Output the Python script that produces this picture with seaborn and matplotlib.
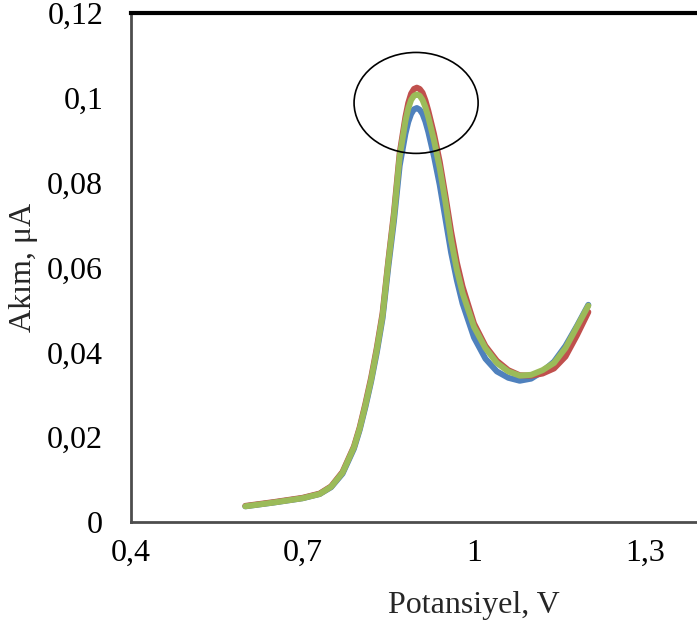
import numpy as np
import pandas as pd
import seaborn as sns
import matplotlib
matplotlib.use("Agg")
import matplotlib.pyplot as plt
from matplotlib.patches import Ellipse

# ---- data ----
potential = [0.60, 0.65, 0.70, 0.73, 0.75, 0.77, 0.79, 0.80, 0.81, 0.82, 0.83, 0.84,
             0.85, 0.86, 0.87, 0.88, 0.885, 0.89, 0.895, 0.90, 0.905, 0.91, 0.915, 0.92,
             0.93, 0.94, 0.95, 0.96, 0.97, 0.98, 1.00, 1.02, 1.04, 1.06, 1.08, 1.10,
             1.12, 1.14, 1.16, 1.18, 1.20]

current_blue = [0.0037, 0.0046, 0.0056, 0.0066, 0.0082, 0.0114, 0.0173, 0.0217, 0.0271, 0.0331,
                0.0400, 0.0480, 0.0600, 0.0710, 0.0840, 0.0915, 0.0943, 0.0962, 0.0973, 0.0976,
                0.0972, 0.0962, 0.0944, 0.0920,
                0.0862, 0.0795, 0.0715, 0.0635, 0.0570, 0.0515, 0.0435, 0.0385, 0.0355, 0.0340,
                0.0333, 0.0338, 0.0355, 0.0378, 0.0415, 0.0462, 0.0512]

current_red = [0.0038, 0.0047, 0.0057, 0.0067, 0.0084, 0.0118, 0.0178, 0.0223, 0.0279, 0.0340,
               0.0411, 0.0492, 0.0615, 0.0730, 0.0870, 0.0955, 0.0988, 0.1010, 0.1021, 0.1024,
               0.1021, 0.1012, 0.0994, 0.0970,
               0.0915, 0.0850, 0.0770, 0.0685, 0.0612, 0.0555, 0.0468, 0.0415, 0.0380, 0.0358,
               0.0346, 0.0345, 0.0350, 0.0362, 0.0390, 0.0440, 0.0495]

current_green = [0.0037, 0.0046, 0.0056, 0.0066, 0.0083, 0.0116, 0.0176, 0.0220, 0.0275, 0.0335,
                 0.0406, 0.0486, 0.0610, 0.0722, 0.0862, 0.0945, 0.0975, 0.0995, 0.1005, 0.1008,
                 0.1005, 0.0995, 0.0978, 0.0955,
                 0.0900, 0.0835, 0.0755, 0.0665, 0.0595, 0.0540, 0.0460, 0.0410, 0.0375, 0.0355,
                 0.0345, 0.0347, 0.0358, 0.0375, 0.0410, 0.0460, 0.0510]

series_names = ["Seri 1", "Seri 2", "Seri 3"]
series_colors = ["#4F81BD", "#C0504D", "#9BBB59"]

x_ticks = [0.4, 0.7, 1.0, 1.3]
x_tick_labels = ["0,4", "0,7", "1", "1,3"]
y_ticks = [0, 0.02, 0.04, 0.06, 0.08, 0.10, 0.12]
y_tick_labels = ["0", "0,02", "0,04", "0,06", "0,08", "0,1", "0,12"]

df = pd.concat([
    pd.DataFrame({"Potansiyel": potential, "Akim": vals, "Seri": name})
    for name, vals in zip(series_names, [current_blue, current_red, current_green])
], ignore_index=True)

# ---- styling ----
sns.set_theme(style="white")
plt.rcParams["font.family"] = ["Liberation Serif", "DejaVu Serif"]
FS = 23

fig = plt.figure(figsize=(6.97, 6.32), dpi=100)
ax = fig.add_axes([131 / 697, 1 - 522 / 632, (817 - 131) / 697, (522 - 13) / 632])

sns.lineplot(data=df, x="Potansiyel", y="Akim", hue="Seri", hue_order=series_names,
             palette=series_colors, linewidth=4.3, legend=False, ax=ax,
             estimator=None, sort=False)
for ln in ax.get_lines():
    ln.set_solid_capstyle("round")
    ln.set_solid_joinstyle("round")

ax.add_patch(Ellipse((0.8987, 0.0988), 0.217, 0.0238, fill=False,
                     edgecolor="black", linewidth=1.2, zorder=5))

ax.set_xlim(0.4, 1.6)
ax.set_ylim(0, 0.12)
ax.set_xticks(x_ticks)
ax.set_xticklabels(x_tick_labels)
ax.set_yticks(y_ticks)
ax.set_yticklabels(y_tick_labels)

ax.tick_params(axis="both", direction="in", length=5, width=1, color="#808080",
               labelsize=FS, labelcolor="black")
ax.tick_params(axis="x", pad=12)
ax.tick_params(axis="y", pad=20)

for side in ["left", "bottom"]:
    ax.spines[side].set_color("#4d4d4d")
    ax.spines[side].set_linewidth(2.0)
ax.spines["top"].set_color("black")
ax.spines["top"].set_linewidth(3.0)
ax.spines["right"].set_visible(False)

ax.set_xlabel("Potansiyel, V", fontsize=FS, labelpad=17)
ax.set_ylabel("Akım, μA", fontsize=FS, labelpad=7)

fig.savefig("out.png", dpi=100)
